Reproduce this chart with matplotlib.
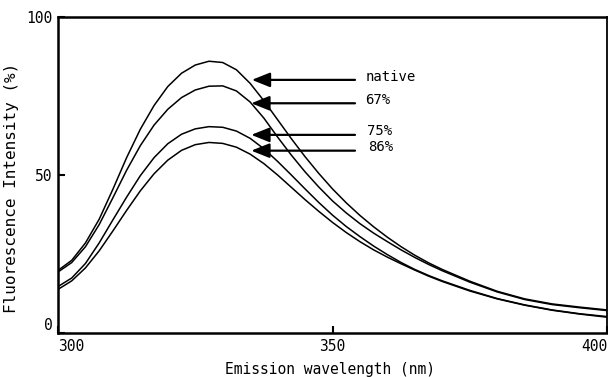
import matplotlib
matplotlib.use("Agg")
import matplotlib.pyplot as plt
from matplotlib.patches import FancyArrowPatch

# ---- data ----
wavelength = [300, 302.5, 305, 307.5, 310, 312.5, 315, 317.5, 320, 322.5, 325, 327.5,
              330, 332.5, 335, 337.5, 340, 342.5, 345, 347.5, 350, 352.5, 355, 357.5,
              360, 362.5, 365, 367.5, 370, 375, 380, 385, 390, 395, 400]

native = [19.8, 23.0, 28.5, 36.0, 45.5, 55.5, 64.5, 72.0, 78.0, 82.2, 84.8, 86.0,
          85.6, 83.3, 79.0, 73.5, 67.5, 61.5, 55.8, 50.5, 45.6, 41.2, 37.2, 33.6,
          30.3, 27.3, 24.6, 22.2, 20.1, 16.4, 13.2, 10.8, 9.2, 8.2, 7.3]

pct67 = [19.3, 22.3, 27.3, 34.3, 42.8, 51.5, 59.3, 65.8, 70.8, 74.5, 76.9, 78.1,
         78.2, 76.6, 73.1, 68.0, 62.0, 56.3, 51.0, 46.2, 41.8, 38.0, 34.6, 31.6,
         28.9, 26.3, 23.9, 21.7, 19.7, 16.1, 13.0, 10.6, 9.0, 8.0, 7.1]

pct75 = [14.7, 17.4, 22.0, 28.5, 35.8, 43.0, 49.8, 55.5, 59.9, 62.9, 64.6, 65.3,
         65.1, 63.9, 61.6, 58.3, 54.3, 50.0, 45.6, 41.3, 37.3, 33.7, 30.5, 27.5,
         24.8, 22.3, 20.1, 18.2, 16.5, 13.5, 10.9, 8.9, 7.3, 6.1, 5.2]

pct86 = [13.8, 16.5, 20.6, 26.0, 32.3, 38.8, 45.0, 50.4, 54.7, 57.8, 59.6, 60.3,
         60.0, 58.8, 56.6, 53.6, 50.0, 46.1, 42.2, 38.5, 35.0, 31.8, 28.9, 26.3,
         24.0, 21.9, 19.9, 18.0, 16.3, 13.3, 10.8, 8.8, 7.2, 6.0, 5.0]

series_labels = ["native", "67%", "75%", "86%"]
arrow_y = [80.1, 72.7, 62.7, 57.7]
arrow_tip_x = [335.3, 335.2, 335.2, 335.2]
arrow_tail_x = [354.1, 354.1, 354.1, 354.1]
label_x = [356.0, 356.0, 356.2, 356.4]
label_y = [81.0, 73.7, 64.0, 59.0]

x_ticks = [300, 350, 400]
y_ticks = [0, 50, 100]

# ---- figure ----
fig = plt.figure(figsize=(6.08, 3.77), dpi=100)
ax = fig.add_axes([58/608, 1 - 333/377, (607-58)/608, (333-17)/377])

font = "DejaVu Sans Mono"

for ys in (native, pct67, pct75, pct86):
    ax.plot(wavelength, ys, color="black", lw=1.1, solid_joinstyle="round")

for lab, ay, tx, tl, lx, ly in zip(series_labels, arrow_y, arrow_tip_x, arrow_tail_x, label_x, label_y):
    arr = FancyArrowPatch((tl, ay), (tx, ay),
                          arrowstyle="-|>,head_length=0.55,head_width=0.22",
                          mutation_scale=20, lw=1.6, color="black",
                          shrinkA=0, shrinkB=0)
    ax.add_patch(arr)
    ax.text(lx, ly, lab, family=font, fontsize=10, va="center", ha="left")

ax.set_xlim(300, 400)
ax.set_ylim(0, 100)
ax.set_xticks(x_ticks)
ax.set_yticks(y_ticks)
ax.set_xticklabels([str(t) for t in x_ticks], family=font, fontsize=10.5)
ax.set_yticklabels([str(t) for t in y_ticks], family=font, fontsize=10.5)
xl = ax.get_xticklabels()
xl[0].set_ha("left")
xl[-1].set_ha("right")
yl = ax.get_yticklabels()
yl[0].set_va("bottom")

ax.tick_params(direction="in", length=5, width=1.5, pad=4)

for s in ax.spines.values():
    s.set_linewidth(1.8)
ax.spines["right"].set_linewidth(1.3)

ax.set_xlabel("Emission wavelength (nm)", family=font, fontsize=10.5)
ax.set_ylabel("Fluorescence Intensity (%)", family=font, fontsize=11.5)
ax.xaxis.set_label_coords(0.495, -0.092)
ax.yaxis.set_label_coords(-0.071, 0.459)

fig.savefig("out.png", dpi=100)
